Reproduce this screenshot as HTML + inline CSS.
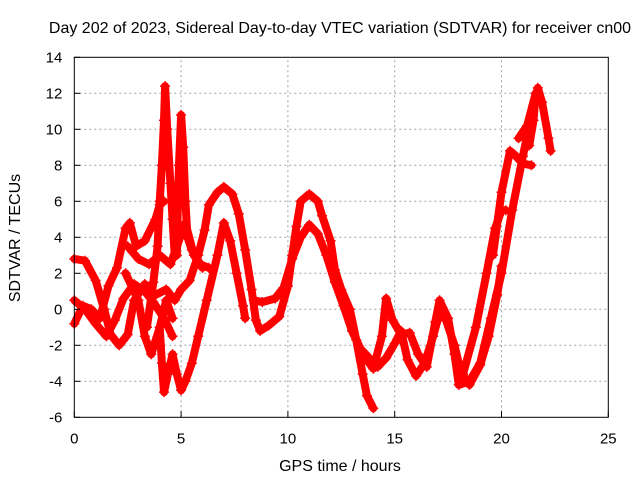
<!DOCTYPE html>
<html><head><meta charset="utf-8"><style>
body{margin:0;background:#fff}
svg{display:block;font-family:"Liberation Sans",sans-serif}
</style></head><body>
<svg id="chart" width="640" height="480" viewBox="0 0 640 480" xmlns="http://www.w3.org/2000/svg">
<text x="340" y="33" font-size="16" text-anchor="middle">Day 202 of 2023, Sidereal Day-to-day VTEC variation (SDTVAR) for receiver cn00</text>
<text x="340" y="471" font-size="16" text-anchor="middle">GPS time / hours</text>
<text transform="translate(20,238) rotate(-90)" font-size="16" text-anchor="middle">SDTVAR / TECUs</text>
<g id="grid"></g>
<g id="series"></g>
<rect x="74.3" y="57.3" width="534" height="360" fill="none" stroke="#000" stroke-width="1"/>
<g id="ticks"></g>
</svg>
<script>
const xTicks=[0,5,10,15,20,25];
const yTicks=[-6,-4,-2,0,2,4,6,8,10,12,14];
const arc1=[[0,2.8],[0.5,2.7],[1,1.6],[1.4,0],[1.7,-1.4],[2.1,-2],[2.5,-1.4],[2.8,0.5],[3.3,1.4],[3.8,0.8],[4.3,1.1],[4.7,0.5],[5.0,1.1],[5.4,1.6],[5.8,3.0],[6.1,4.4],[6.3,5.8],[6.7,6.5],[7.0,6.8],[7.4,6.4],[7.7,5.3],[8.0,3.3],[8.3,1.1],[8.5,-0.6],[8.7,-1.2],[9.1,-0.9],[9.6,-0.4],[10.0,1.3],[10.2,3.0],[10.4,4.6],[10.6,6.0],[11.0,6.4],[11.4,6.0],[11.6,5.2],[12.0,3.8],[12.2,2.2],[12.5,1.1],[12.9,0],[13.2,-1.7],[13.5,-3.6],[13.7,-4.8],[14.0,-5.5]];
const arc2=[[8.4,0.5],[8.8,0.4],[9.4,0.6],[9.8,1.2],[10.2,2.8],[10.6,4.0],[11.0,4.7],[11.4,4.2],[11.8,3.0],[12.2,1.5],[12.6,0.2],[13.0,-1.2],[13.4,-2.2],[13.8,-2.7],[14.2,-3.2],[14.6,-2.7],[15.0,-1.9],[15.3,-1.2],[15.6,-2.8],[16.0,-3.7],[16.4,-3.0],[16.8,-1.5],[17.1,-0.2],[17.4,-0.6],[17.8,-2.0],[18.1,-3.5],[18.5,-4.2],[19.0,-3.1],[19.4,-1.5],[19.8,0.8],[20.0,2.4]];
const arc3=[[13.5,-2.5],[14.0,-3.3],[14.4,-1.5],[14.6,0.6],[14.9,-0.6],[15.3,-1.4],[15.7,-1.3],[16.1,-2.5],[16.5,-3.2],[16.9,-0.7],[17.1,0.5],[17.5,-0.5],[17.8,-2.5],[18.0,-4.2],[18.5,-4.0],[19.0,-3.0],[19.5,-0.5],[20.0,2.0],[20.5,5.5],[21.0,8.5],[21.4,10.8],[21.7,12.3],[21.9,11.5],[22.2,9.5],[22.3,8.8]];
const arc4=[[18.2,-3.6],[18.8,-1.0],[19.3,2.0],[19.7,4.5],[20.0,5.5],[20.2,5.5]];
const arc5=[[19.6,3.0],[20.0,6.5],[20.4,8.8],[20.6,8.6],[21.0,8.1],[21.4,8.0]];
const arc6=[[20.8,9.5],[21.2,10.2],[21.6,12.0],[21.5,10.5],[21.3,9.1]];
const arc7=[[3.4,-1],[3.7,1.5],[3.9,3.5],[4.0,6],[4.1,8],[4.2,10.5],[4.25,12.4],[4.35,10],[4.5,7],[4.6,5],[4.7,3],[4.8,3],[4.85,6],[4.9,8],[5.0,10.8],[5.1,9],[5.2,6],[5.3,4],[5.5,3.3],[5.9,2.5],[6.3,2.3]];
const arc8=[[4.0,-1],[4.1,-3],[4.2,-4.6],[4.4,-3.5],[4.6,-2.5],[4.8,-3.6],[5.0,-4.5],[5.2,-4],[5.5,-3],[5.8,-1.5],[6.2,0.5],[6.7,3],[7.0,4.8],[7.3,3.8],[7.6,2],[7.9,0.2],[8.0,-0.5]];
const arc9=[[0,0.5],[0.5,0],[1.0,-0.8],[1.5,-1.5],[1.9,-0.6],[2.3,0.6],[2.8,1.4],[3.3,1.0],[3.7,0.4],[4.2,-0.5],[4.6,-1.5]];
const arc10=[[0,-0.8],[0.4,0.2],[0.8,0],[1.2,-0.5],[1.6,1.3],[2.0,2.3],[2.4,4.5],[2.6,4.8],[2.9,3.5],[3.3,3.8],[3.8,5.0],[4.0,5.8],[4.2,6.0]];
const arc11=[[2.5,3.5],[3.0,2.8],[3.5,2.5],[4.0,3.0],[4.5,2.5],[5.2,4.8],[5.6,3.0],[6.0,2.3]];
const arc12=[[2.4,2.0],[3.0,0.5],[3.3,-1.5],[3.6,-2.5],[4.0,-1.0],[4.3,0.5],[4.6,-0.5]];
const arcs=[arc1,arc2,arc3,arc4,arc5,arc6,arc7,arc8,arc9,arc10,arc11,arc12];
const X0=74.3,X1=608.3,Y0=417.3,Y1=57.3;
function sx(h){return X0+(h-0)/25*(X1-X0);}
function sy(v){return Y0-(v+6)/20*(Y0-Y1);}
const NS="http://www.w3.org/2000/svg";
const grid=document.getElementById('grid'),ticks=document.getElementById('ticks'),ser=document.getElementById('series');
function mk(t,a,p){const e=document.createElementNS(NS,t);for(const k in a)e.setAttribute(k,a[k]);p.appendChild(e);return e;}
xTicks.forEach(t=>{const x=sx(t);
 if(t>0&&t<25){const g=mk('line',{x1:x,x2:x,y1:Y0,y2:Y1,stroke:'#a0a0a0','stroke-dasharray':'2,3'},grid);
 
 }
 const tk=mk('line',{x1:x,x2:x,y1:Y0,y2:Y0-6,stroke:'#000'},ticks);
 
 
 const l=mk('text',{x:x,y:Y0+26,'font-size':15,'text-anchor':'middle'},ticks);l.textContent=t;
 
 });
yTicks.forEach(t=>{const y=sy(t);
 if(t>-6&&t<14){const g=mk('line',{x1:X0,x2:X1,y1:y,y2:y,stroke:'#a0a0a0','stroke-dasharray':'2,3'},grid);
 
 }
 const tk=mk('line',{x1:X0,x2:X0+6,y1:y,y2:y,stroke:'#000'},ticks);
 
 
 const l=mk('text',{x:X0-12,y:y+5,'font-size':15,'text-anchor':'end'},ticks);l.textContent=t;
 
 });
arcs.forEach((a,i)=>{
 const p=mk('polyline',{points:a.map(d=>sx(d[0])+','+sy(d[1])).join(' '),fill:'none',stroke:'#ff0000','stroke-width':8,'stroke-linejoin':'round','stroke-linecap':'round'},ser);
 
 
 a.forEach(d=>{const x=sx(d[0]),y=sy(d[1]);
  const m=mk('path',{d:`M${x-5},${y}H${x+5}M${x},${y-5}V${y+5}`,stroke:'#ff0000','stroke-width':1.5},ser);
  
  });
});
</script>
</body></html>
